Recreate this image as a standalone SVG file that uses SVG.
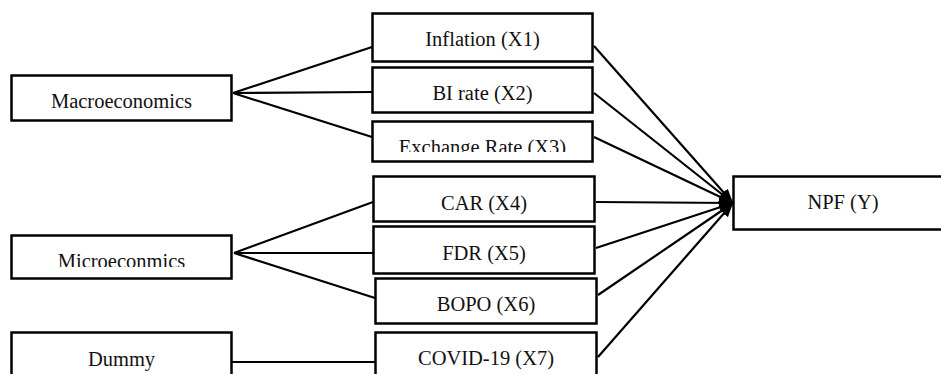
<svg xmlns="http://www.w3.org/2000/svg" width="941" height="374" viewBox="0 0 941 374">
<defs>
<style>
.box{fill:#fff;stroke:#000;stroke-width:2.5}
.lbl{font-family:'Liberation Serif','DejaVu Serif',serif;font-size:20.5px;fill:#111;text-anchor:middle}
.con{stroke:#000;stroke-width:2.2;fill:none}
</style>
<marker id="ah" markerUnits="userSpaceOnUse" markerWidth="16" markerHeight="12" refX="14" refY="5.5" orient="auto">
<path d="M0,0 L14,5.5 L0,11 z" fill="#000"/>
</marker>
<clipPath id="c3"><rect x="372" y="121" width="221" height="31"/></clipPath>
<clipPath id="cm"><rect x="11" y="235" width="221" height="32"/></clipPath>
</defs>
<rect width="941" height="374" fill="#fff"/>
<g id="connectors">
<line class="con" x1="233" y1="93" x2="372" y2="47"/>
<line class="con" x1="233" y1="93" x2="372" y2="92"/>
<line class="con" x1="233" y1="93" x2="372" y2="137"/>
<line class="con" x1="234" y1="253" x2="373" y2="202"/>
<line class="con" x1="234" y1="253" x2="373" y2="253"/>
<line class="con" x1="234" y1="253" x2="375" y2="298"/>
<line class="con" x1="232" y1="362" x2="375" y2="362"/>
<line class="con" x1="594" y1="46" x2="733" y2="203" marker-end="url(#ah)"/>
<line class="con" x1="594" y1="93" x2="733" y2="203" marker-end="url(#ah)"/>
<line class="con" x1="594" y1="137" x2="733" y2="203" marker-end="url(#ah)"/>
<line class="con" x1="596" y1="202" x2="733" y2="203" marker-end="url(#ah)"/>
<line class="con" x1="596" y1="248" x2="733" y2="203" marker-end="url(#ah)"/>
<line class="con" x1="598" y1="295" x2="733" y2="203" marker-end="url(#ah)"/>
<line class="con" x1="598" y1="357" x2="733" y2="203" marker-end="url(#ah)"/>
</g>
<g id="macro"><rect class="box" x="11.5" y="75.5" width="220" height="45"/><text class="lbl" x="121.5" y="108">Macroeconomics</text></g>
<g id="micro"><rect class="box" x="11.5" y="235.5" width="220" height="43"/><text class="lbl" x="121.5" y="268" clip-path="url(#cm)">Microeconmics</text></g>
<g id="dummy"><rect class="box" x="11.5" y="332.5" width="220" height="50"/><text class="lbl" x="121.5" y="366">Dummy</text></g>
<g id="x1"><rect class="box" x="372.5" y="13.5" width="220" height="48"/><text class="lbl" x="482.5" y="46">Inflation (X1)</text></g>
<g id="x2"><rect class="box" x="372.5" y="67.5" width="220" height="45"/><text class="lbl" x="482.5" y="100">BI rate (X2)</text></g>
<g id="x3"><rect class="box" x="372.5" y="121.5" width="220" height="40"/><text class="lbl" x="482.5" y="154" clip-path="url(#c3)">Exchange Rate (X3)</text></g>
<g id="x4"><rect class="box" x="373.5" y="176.5" width="221" height="45"/><text class="lbl" x="484" y="210">CAR (X4)</text></g>
<g id="x5"><rect class="box" x="373.5" y="226.5" width="221" height="47"/><text class="lbl" x="484" y="260">FDR (X5)</text></g>
<g id="x6"><rect class="box" x="375.5" y="278.5" width="221" height="45"/><text class="lbl" x="486" y="311">BOPO (X6)</text></g>
<g id="x7"><rect class="box" x="375.5" y="332.5" width="221" height="50"/><text class="lbl" x="486" y="365">COVID-19 (X7)</text></g>
<g id="npf"><rect class="box" x="733.5" y="176.5" width="220" height="53"/><text class="lbl" x="843" y="209">NPF (Y)</text></g>
</svg>
